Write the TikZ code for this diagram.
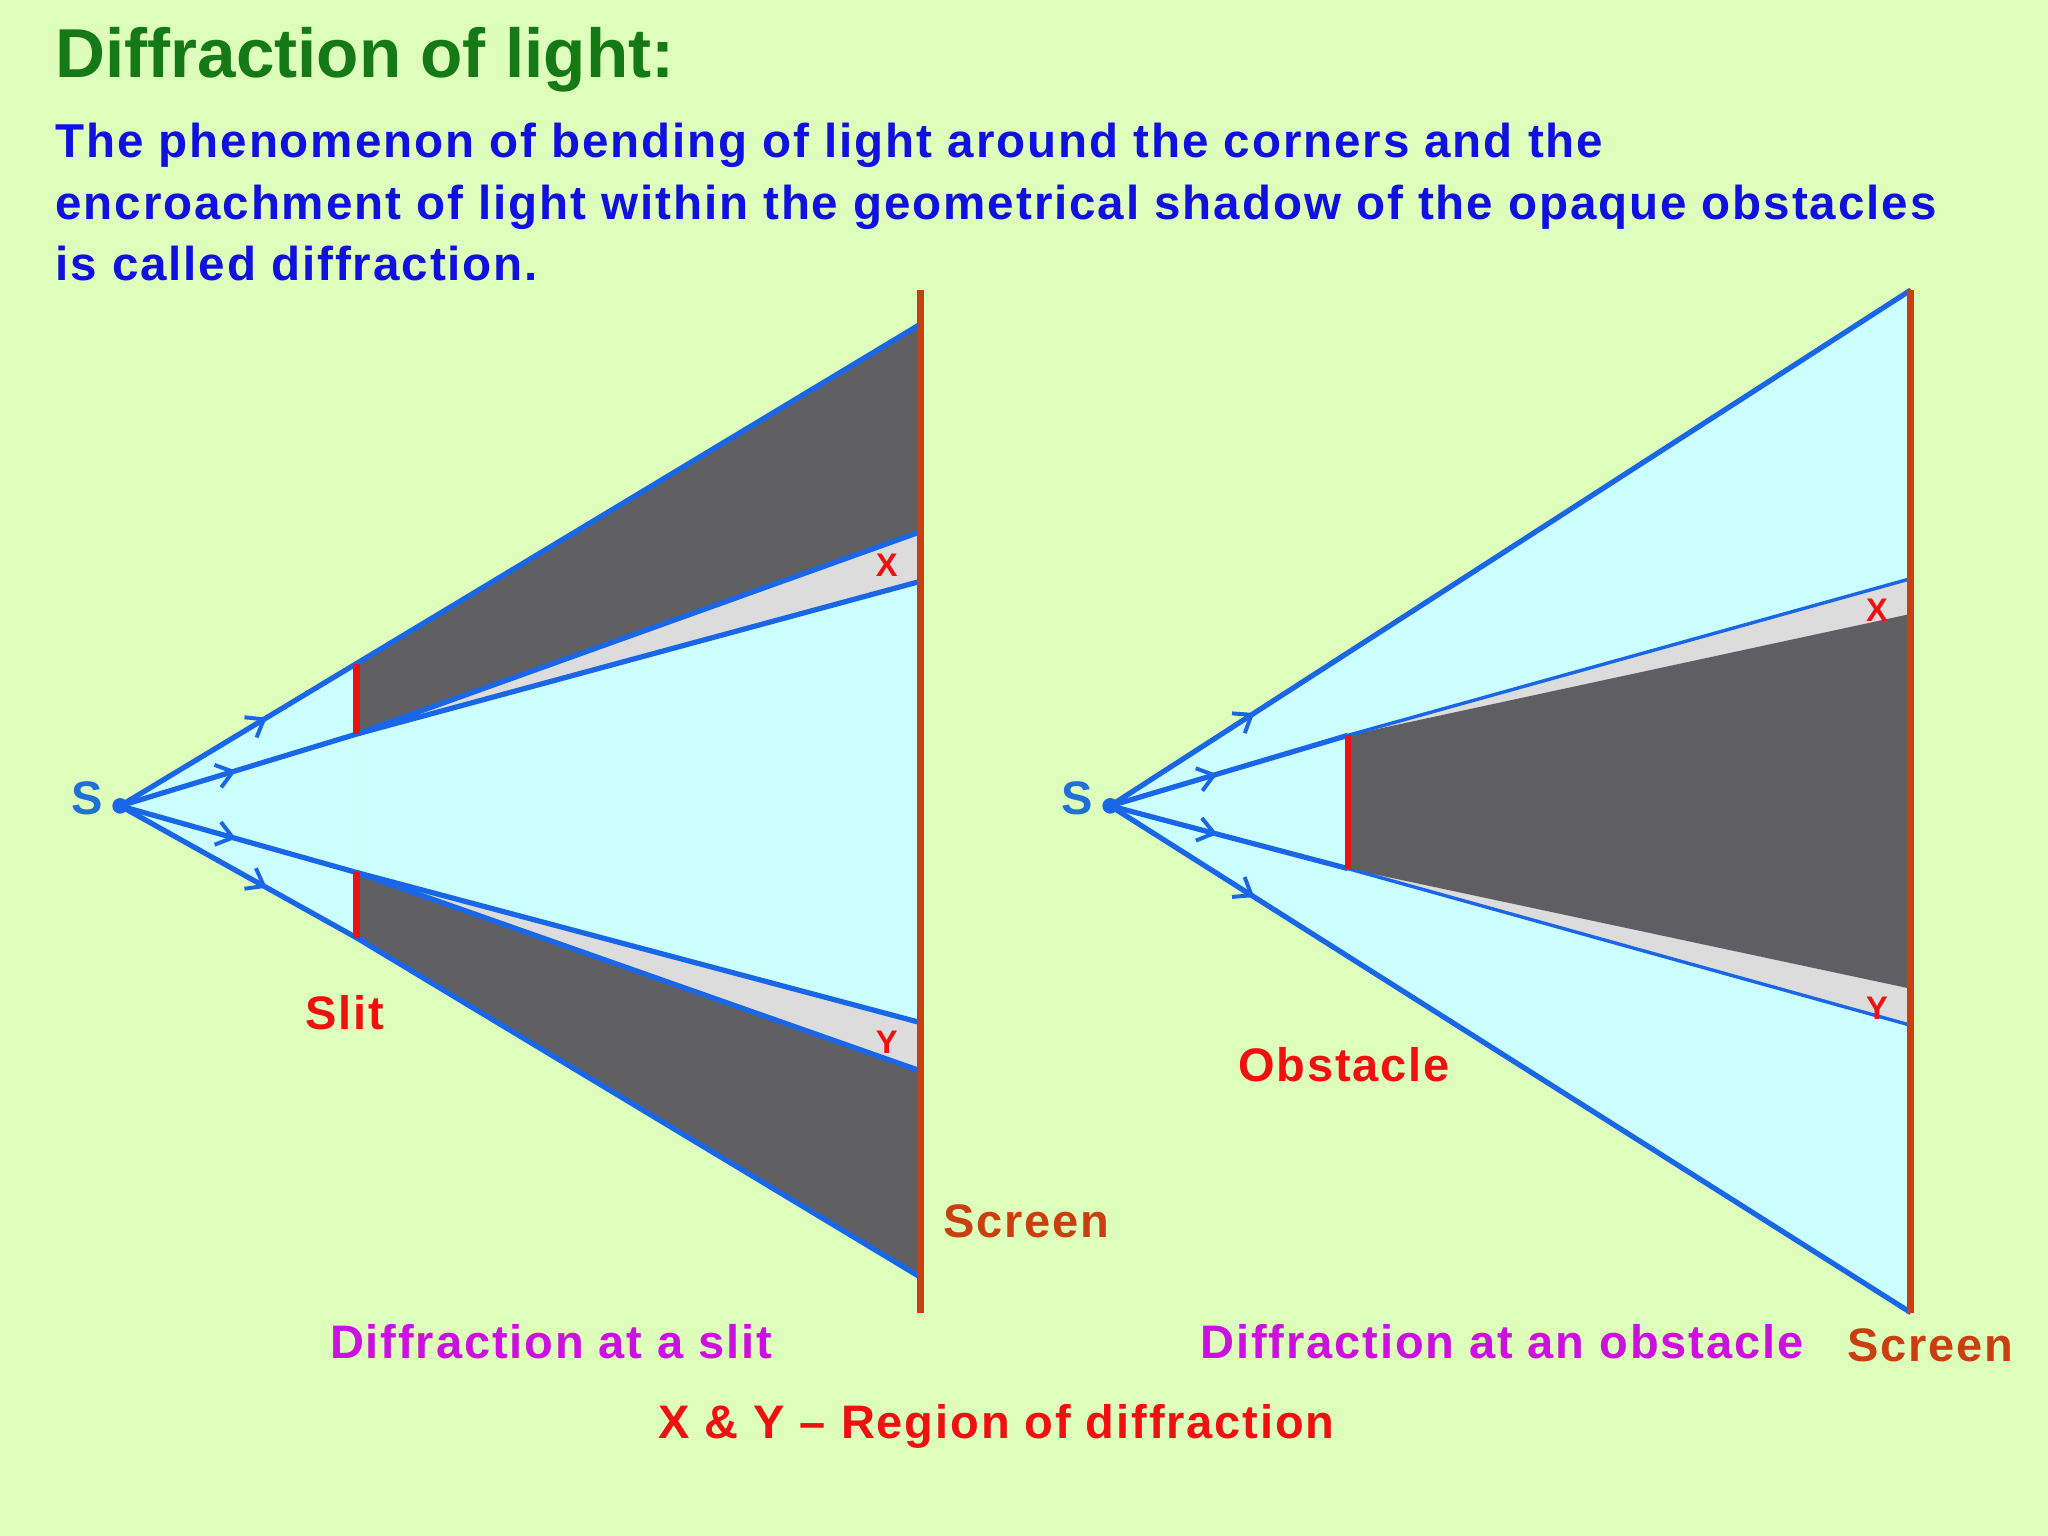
\documentclass[tikz,border=0pt]{standalone}
\usepackage{fontspec}
\setmainfont{Liberation Sans}[LetterSpace=4]
\newfontfamily\titlefont{Liberation Sans}
\usetikzlibrary{arrows.meta,calc}
\definecolor{bg}{HTML}{DDFFBB}
\definecolor{cy}{HTML}{CCFFFF}
\definecolor{dk}{HTML}{5F5F61}
\definecolor{gr}{HTML}{DCDCDC}
\definecolor{bl}{HTML}{1A66E8}
\definecolor{scr}{HTML}{C84010}
\definecolor{ttl}{HTML}{157A15}
\definecolor{txt}{HTML}{1010E0}
\definecolor{mag}{HTML}{CC10E0}
\definecolor{rd}{HTML}{F01010}
\definecolor{sl}{HTML}{2070D8}
\tikzset{ray/.style={bl,line width=2pt},thin ray/.style={bl,line width=1.3pt},
 arr/.style={bl,line width=1.5pt,-{Straight Barb[length=6pt,width=9pt]}},
 screenline/.style={scr,line width=2.6pt},
 slitline/.style={rd,line width=2.6pt},
 lab/.style={font=\bfseries\fontsize{18}{21}\selectfont},
 small/.style={font=\bfseries\fontsize{12.5}{14}\selectfont,rd}}
\begin{document}
\begin{tikzpicture}[x=0.5pt,y=-0.5pt]
\fill[bg] (0,0) rectangle (1568,1176);
\useasboundingbox (0,0) rectangle (1568,1176);
\node[anchor=base west,inner sep=0pt,ttl,font=\titlefont\bfseries\fontsize{26.5}{30}\selectfont] (title) at (42,59) {Diffraction of light:};
\node[anchor=north west,txt,align=left,inner sep=0pt,font=\bfseries\fontsize{18.2}{23.5}\selectfont] (para) at (42,94)
 {The phenomenon of bending of light around the corners and the\\encroachment of light within the geometrical shadow of the opaque obstacles\\is called diffraction.};
% ---------- left: slit
\coordinate (S1) at (92,617);
\coordinate (A1) at (273,508); \coordinate (B1) at (273,562);
\coordinate (C1) at (273,668); \coordinate (D1) at (273,718);
\fill[cy] (S1) -- (A1) -- (D1) -- cycle;
\fill[cy] (B1) -- (705,445) -- (705,783) -- (C1) -- cycle;
\fill[dk] (A1) -- (705,248) -- (705,407) -- (B1) -- cycle;
\fill[gr] (B1) -- (705,407) -- (705,445) -- cycle;
\fill[dk] (D1) -- (705,978) -- (705,820) -- (C1) -- cycle;
\fill[gr] (C1) -- (705,820) -- (705,783) -- cycle;
\draw[ray] (S1) -- (A1) -- (705,248);
\draw[ray] (S1) -- (B1) -- (705,445);
\draw[ray] (B1) -- (705,407);
\draw[ray] (S1) -- (C1) -- (705,783);
\draw[ray] (C1) -- (705,820);
\draw[ray] (S1) -- (D1) -- (705,978);
\draw[arr] (S1) -- ($(S1)!0.62!(A1)$);
\draw[arr] (S1) -- ($(S1)!0.49!(B1)$);
\draw[arr] (S1) -- ($(S1)!0.49!(C1)$);
\draw[arr] (S1) -- ($(S1)!0.62!(D1)$);
\draw[slitline] (A1) -- (B1); \draw[slitline] (C1) -- (D1);
\draw[screenline] (705,222) -- (705,1005);
\fill[bl] (S1) circle (6);
\node[lab,sl] (s1) at (67,611) {S};
\node[small] (x1) at (679,433) {X};
\node[small] (y1) at (679,798) {Y};
\node[lab,rd] (slit) at (264,775) {Slit};
\node[lab,scr] (scr1) at (786,935) {Screen};
\node[lab,mag] (cap1) at (422,1027) {Diffraction at a slit};
% ---------- right: obstacle
\coordinate (S2) at (850,617);
\coordinate (T2) at (1463,222); \coordinate (U2) at (1463,1005);
\coordinate (O1) at (1032,563); \coordinate (O2) at (1032,665);
\fill[cy] (S2) -- (T2) -- (U2) -- cycle;
\fill[gr] (O1) -- (1463,443) -- (1463,470) -- cycle;
\fill[gr] (O2) -- (1463,785) -- (1463,757) -- cycle;
\fill[dk] (O1) -- (1463,470) -- (1463,757) -- (O2) -- cycle;
\draw[ray] (S2) -- (T2);
\draw[ray] (S2) -- (U2);
\draw[ray] (S2) -- (O1);
\draw[ray] (S2) -- (O2);
\draw[thin ray] (O1) -- (1463,443);
\draw[thin ray] (O2) -- (1463,785);
\draw[arr] (S2) -- ($(S2)!0.18!(T2)$);
\draw[arr] (S2) -- ($(S2)!0.45!(O1)$);
\draw[arr] (S2) -- ($(S2)!0.45!(O2)$);
\draw[arr] (S2) -- ($(S2)!0.18!(U2)$);
\draw[slitline] (O1) -- (O2);
\draw[screenline] (1463,222) -- (1463,1005);
\fill[bl] (S2) circle (6);
\node[lab,sl] (s2) at (825,611) {S};
\node[small] (x2) at (1437,467) {X};
\node[small] (y2) at (1437,772) {Y};
\node[lab,rd] (obs) at (1029,815) {Obstacle};
\node[lab,mag] (cap2) at (1150,1027) {Diffraction at an obstacle};
\node[lab,scr] (scr2) at (1478,1030) {Screen};
\node[lab,rd] (note) at (763,1092) {X \& Y – Region of diffraction};
\end{tikzpicture}
\end{document}
